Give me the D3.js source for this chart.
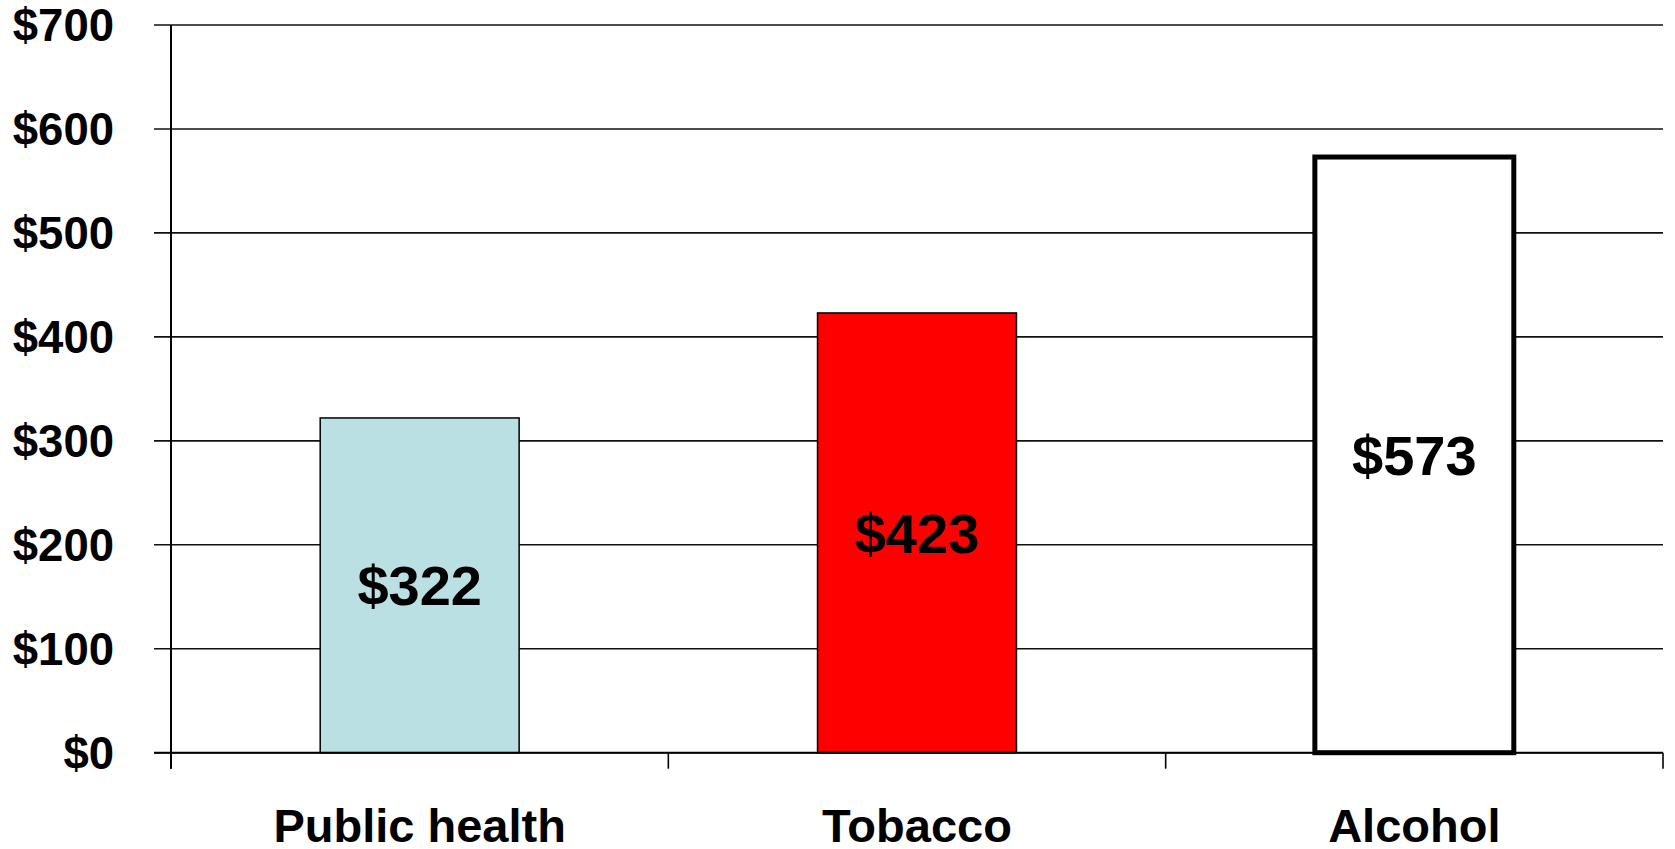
<!DOCTYPE html>
<html>
<head>
<meta charset="utf-8">
<script src="https://cdn.jsdelivr.net/npm/d3@7/dist/d3.min.js"></script>
<style>
  html, body { margin: 0; padding: 0; background: #ffffff; }
  svg { display: block; }
  text { font-family: "Liberation Sans", Arial, sans-serif; font-weight: bold; fill: #000; }
</style>
</head>
<body>
<svg id="chart" width="1675" height="849"></svg>
<script>
// Cost per unit, in dollars
const categories = ["Public health", "Tobacco", "Alcohol"];
const values = [322, 423, 573];
const yTicks = [0, 100, 200, 300, 400, 500, 600, 700];

const fills = ["#bbe0e3", "#ff0000", "#ffffff"];
const strokeWidths = [1.5, 1.5, 5];

const width = 1675, height = 849;
const margin = { top: 25, right: 12, bottom: 96.3, left: 171 };
const plotW = width - margin.left - margin.right;
const plotH = height - margin.top - margin.bottom;

const svg = d3.select("#chart");
const g = svg.append("g").attr("transform", `translate(${margin.left},${margin.top})`);

const x = d3.scaleBand()
  .domain(categories)
  .range([0, plotW])
  .paddingInner(0.6)
  .paddingOuter(0.3);

const y = d3.scaleLinear().domain([0, 700]).range([plotH, 0]);

// Horizontal gridlines, extending left as tick marks
g.append("g")
  .selectAll("line")
  .data(yTicks)
  .join("line")
  .attr("x1", -17)
  .attr("x2", plotW)
  .attr("y1", d => y(d))
  .attr("y2", d => y(d))
  .attr("stroke", "#111")
  .attr("stroke-width", 1.6);

// Y tick labels
g.append("g")
  .selectAll("text")
  .data(yTicks)
  .join("text")
  .attr("x", -57)
  .attr("y", d => y(d))
  .attr("dy", "0.36em")
  .attr("text-anchor", "end")
  .attr("font-size", 45.5)
  .text(d => "$" + d);

// Bars
g.append("g")
  .selectAll("rect")
  .data(values)
  .join("rect")
  .attr("x", (d, i) => x(categories[i]))
  .attr("y", d => y(d))
  .attr("width", x.bandwidth())
  .attr("height", d => y(0) - y(d))
  .attr("fill", (d, i) => fills[i])
  .attr("stroke", "#000")
  .attr("stroke-width", (d, i) => strokeWidths[i]);

// Value labels centred inside each bar
g.append("g")
  .selectAll("text")
  .data(values)
  .join("text")
  .attr("x", (d, i) => x(categories[i]) + x.bandwidth() / 2)
  .attr("y", d => (y(d) + y(0)) / 2)
  .attr("dy", "0.36em")
  .attr("text-anchor", "middle")
  .attr("font-size", 56)
  .text(d => "$" + d);

// Axes: vertical line and category boundary ticks
g.append("line")
  .attr("x1", 0).attr("x2", 0)
  .attr("y1", 0).attr("y2", plotH + 16)
  .attr("stroke", "#000").attr("stroke-width", 2);

const boundaries = [0, ...categories.map(c => x(c) - x.step() * x.paddingInner() / 2 + x.step())];
boundaries[boundaries.length - 1] = plotW;
g.append("g")
  .selectAll("line")
  .data(boundaries)
  .join("line")
  .attr("x1", d => d).attr("x2", d => d)
  .attr("y1", plotH).attr("y2", plotH + 16)
  .attr("stroke", "#000").attr("stroke-width", 1.6);

g.append("line")
  .attr("x1", -17).attr("x2", plotW)
  .attr("y1", y(0)).attr("y2", y(0))
  .attr("stroke", "#000").attr("stroke-width", 2);

// Category labels
g.append("g")
  .selectAll("text")
  .data(categories)
  .join("text")
  .attr("x", d => x(d) + x.bandwidth() / 2)
  .attr("y", plotH + 89)
  .attr("text-anchor", "middle")
  .attr("font-size", 47)
  .text(d => d);
</script>
</body>
</html>
